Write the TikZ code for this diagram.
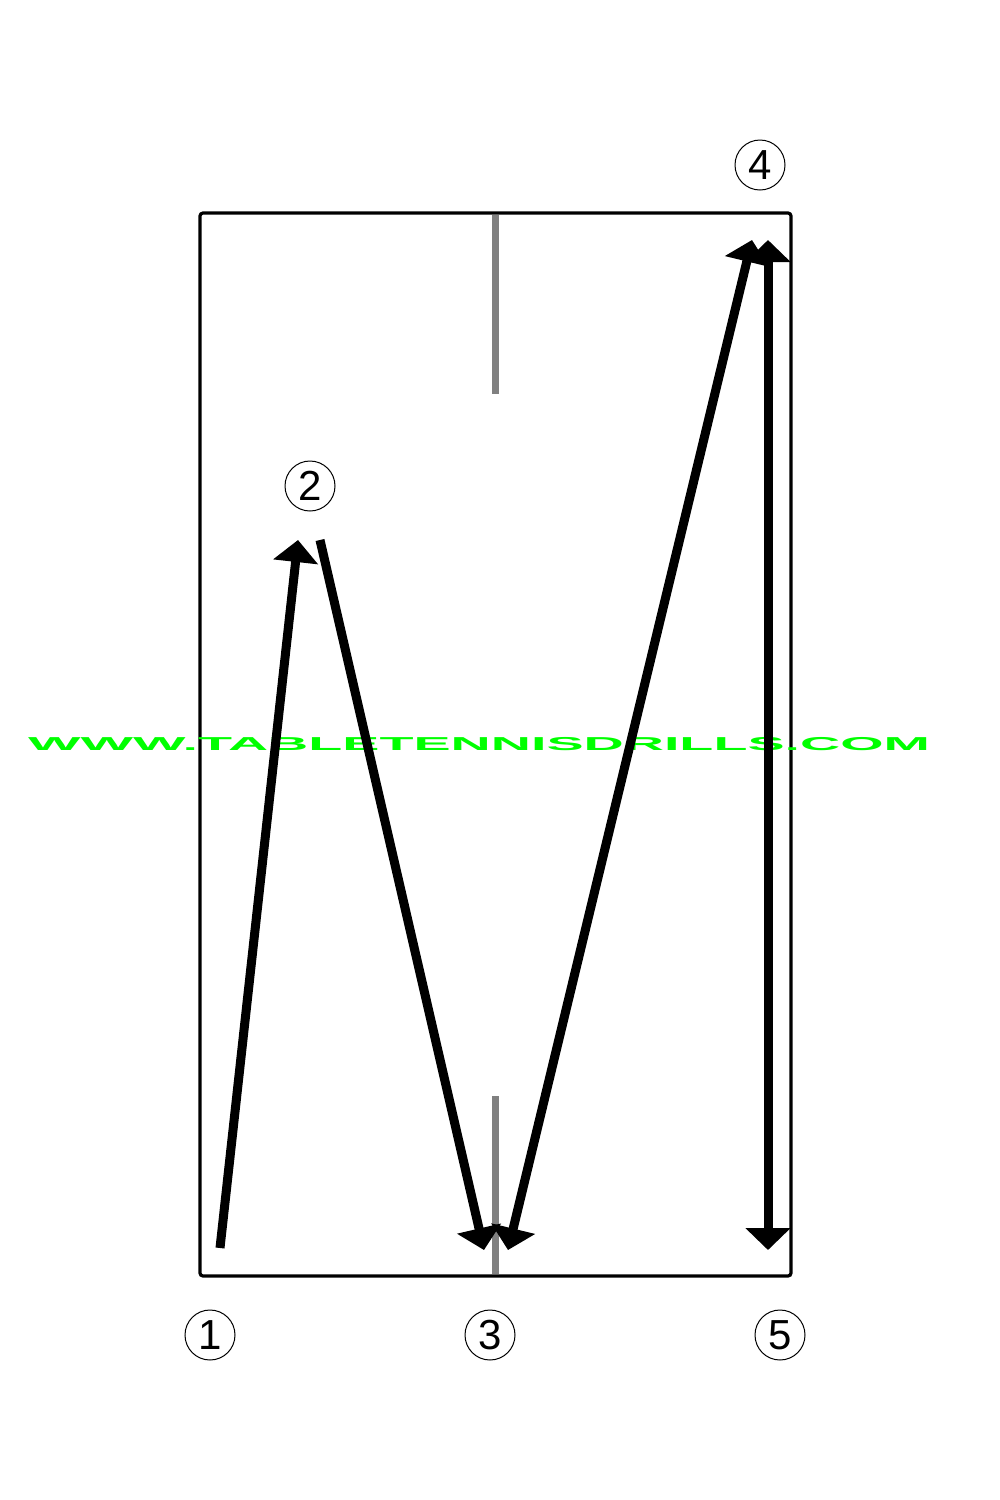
\documentclass[tikz,border=0pt]{standalone}
\usepackage{fontspec}
\setmainfont{Liberation Sans}
\usetikzlibrary{arrows.meta}

\begin{document}
\begin{tikzpicture}[x=0.5pt,y=0.5pt,yscale=-1,xscale=1,
  numcircle/.style={draw,circle,line width=0.5pt,minimum size=25pt,inner sep=0pt,font=\fontsize{21}{21}\selectfont},
  shot/.style={line width=4.5pt,-{Triangle[length=11pt,width=22pt]}},
  shotboth/.style={line width=4.5pt,{Triangle[length=11pt,width=22pt]}-{Triangle[length=11pt,width=22pt]}},
  netline/.style={draw=gray,line width=3.5pt}]
\useasboundingbox (0,0) rectangle (1000,1500);

% Table
\draw [line width=1.6pt,rounded corners=1.5pt] (200,213) rectangle (791,1276);
% Center line
\draw [netline] (495,215) -- (495,394);
\draw [netline] (495,1096) -- (495,1274);

% Watermark
\node (web) at (479,744) [text=green,xscale=2.53,yscale=0.85,font=\fontsize{11}{11}\bfseries\selectfont] {WWW.TABLETENNISDRILLS.COM};

% Text Node
\node [numcircle] (n1) at (210,1335) {1};
% Text Node
\node [numcircle] (n2) at (310,486) {2};
% Text Node
\node [numcircle] (n3) at (490,1335) {3};
% Text Node
\node [numcircle] (n4) at (760,165) {4};
% Text Node
\node [numcircle] (n5) at (780,1335) {5};

% Bounce points
\coordinate (b1) at (220,1248);
\coordinate (b2) at (298,540);
\coordinate (b2s) at (320,540);
\coordinate (b3) at (484,1250);
\coordinate (b3s) at (508,1250);
\coordinate (b4) at (752,240);
\coordinate (b4s) at (768,240);
\coordinate (b5) at (768,1250);

% Connection
\draw [shot] (b1) -- (b2);
% Connection
\draw [shot] (b2s) -- (b3);
% Connection
\draw [shotboth] (b3s) -- (b4);
% Connection
\draw [shotboth] (b4s) -- (b5);

\end{tikzpicture}
\end{document}
